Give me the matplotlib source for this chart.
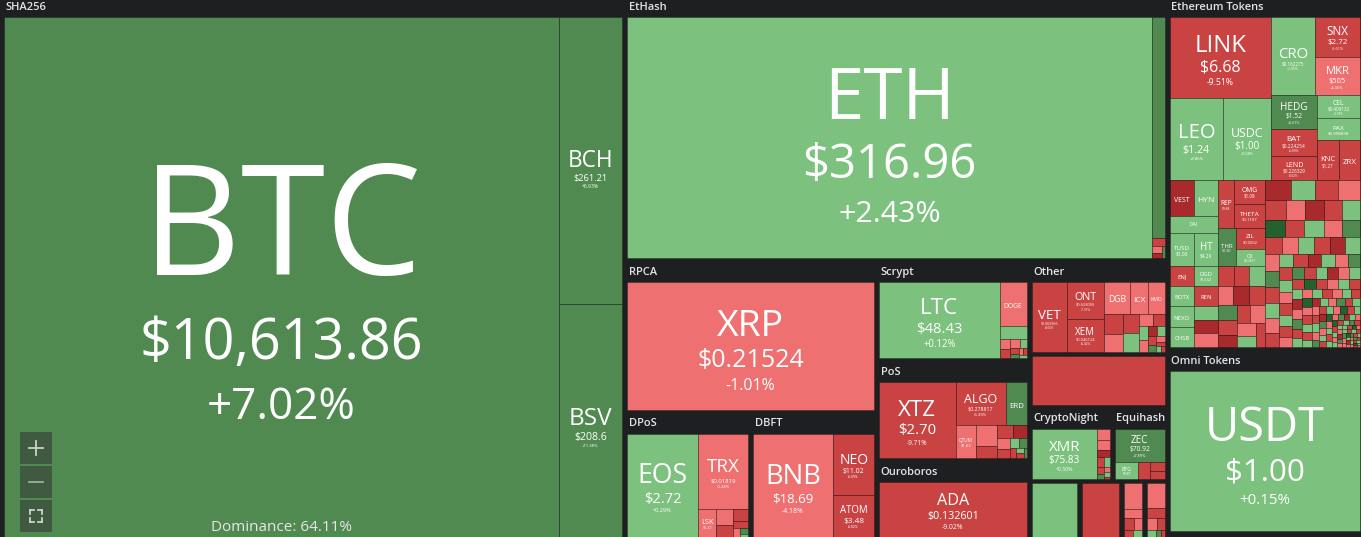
import matplotlib
matplotlib.use('Agg')
import matplotlib.pyplot as plt
from matplotlib.patches import Rectangle
from matplotlib.textpath import TextPath
from matplotlib.font_manager import FontProperties

plt.rcParams['font.family'] = ['Open Sans', 'DejaVu Sans']

# ---------------- data (size = tile weight) ----------------
dominance = 64.11

# SHA256
sha_names = ['BTC', 'BCH', 'BSV']
sha_prices = ['$10,613.86', '$261.21', '$208.6']
sha_changes = [7.02, 6.93, 11.38]
sha_sizes = [287560, 18081, 14679]

# EtHash
ethash_names = ['ETH', 'ETC']
ethash_prices = ['$316.96', '$6.51']
ethash_changes = [2.43, 8.20, -7.1, -3.0, -12.4, 6.2]
ethash_sizes = [126284, 2873, 104, 70, 50, 36]

# RPCA
rpca_names = ['XRP']
rpca_prices = ['$0.21524']
rpca_changes = [-1.01]
rpca_sizes = [31369]

# DPoS
dpos_names = ['EOS', 'TRX', 'LSK']
dpos_prices = ['$2.72', '$0.01819', '$1.27']
dpos_changes = [0.29, -0.28, -2.2, -4.1, -6.5, -7.3, -5.9, -1.2, 8.4, 1.1]
dpos_sizes = [7313, 3750, 506, 280, 204, 170, 110, 54, 48, 28]

# DBFT
dbft_names = ['BNB', 'NEO', 'ATOM']
dbft_prices = ['$18.69', '$11.02', '$3.48']
dbft_changes = [-4.18, -6.09, -6.82]
dbft_sizes = [8240, 2501, 1722]

# Scrypt
scrypt_names = ['LTC', 'DOGE', 'MONA']
scrypt_prices = ['$48.43', '$0.002557', '$1.17']
scrypt_changes = [0.12, -3.05, 1.76, -2.6, -6.9, -3.1, 1.2, -7.4, 9.1, -1.8, -5.5, 2.2]
scrypt_sizes = [9120, 1188, 357, 102, 95, 80, 60, 50, 40, 30, 25, 25]

# PoS
pos_names = ['XTZ', 'ALGO', 'ERD', 'QTUM']
pos_prices = ['$2.70', '$0.278817', '$0.0301', '$1.63']
pos_changes = [-9.71, -6.39, 7.35, -2.6, -3.4, -6.2, -7.5, -11.0, -1.5, -8.0, 2.1, 9.0, -6.3, 1.4, -5.7, 8.8]
pos_sizes = [5776, 2150, 903, 660, 429, 250, 200, 180, 150, 120, 90, 70, 60, 50, 40, 24]

# Ouroboros
ouro_names = ['ADA']
ouro_prices = ['$0.132601']
ouro_changes = [-9.02]
ouro_sizes = [8085]

# Other
other_names = ['VET', 'ONT', 'XEM', 'DGB', 'ICX', 'KMD']
other_prices = ['$0.003966', '$0.633055', '$0.046124', '$0.006823', '$0.151225', '$0.6172']
other_changes = [-8.05, -7.31, -6.42, -4.48, -3.96, -2.71,
                 -7.4, -3.8, -6.1, 1.9, -2.7, -8.3, 3.1, -1.4, -12.2, 0.8, -5.5, 7.7, -2.0, -6.6, 2.4, -5.1]
other_sizes = [2415, 1368, 1254, 806, 558, 527,
               364, 340, 312, 312, 180, 150, 120, 100, 90, 80, 70, 60, 50, 40, 30, 20]

# unlabeled blocks
misc_changes = [-7.9]
misc_sizes = [6432]
blk_changes = [1.6, -7.2, -2.5, -3.9, -6.2, -1.7, -5.6, 2.2, -3.1, -7.0, -2.2, -6.4, 1.4, 6.3, -5.8]
blk_sizes = [2438, 1961, 450, 160, 120, 100, 64, 60, 430, 180, 120, 100, 60, 40, 24]

# CryptoNight
cn_names = ['XMR']
cn_prices = ['$75.83']
cn_changes = [0.50, -3.3, -2.1, -14.0, -6.0, 1.5, -7.0, 6.5, -1.0, 0.7, -5.4]
cn_sizes = [3300, 143, 130, 91, 65, 60, 50, 40, 30, 25, 16]

# Equihash
eq_names = ['ZEC', 'BTG']
eq_prices = ['$70.92', '$9.87']
eq_changes = [7.89, 1.31, -6.8, -7.9, -8.8]
eq_sizes = [1683, 408, 204, 135, 120]

# Ethereum Tokens
tok_names = ['LINK', 'LEO', 'USDC', 'CRO', 'SNX', 'MKR', 'HEDG', 'BAT', 'LEND', 'CEL', 'PAX', 'KNC', 'ZRX',
             'VEST', 'HYN', 'DAI', 'TUSD', 'HT', 'REP', 'OMG', 'THETA', 'THR', 'ZIL', 'OX',
             'ENJ', 'BOTX', 'NEXO', 'CHSB', 'DGD', 'REN', '', '', '']
tok_prices = ['$6.68', '$1.24', '$1.00', '$0.162275', '$2.72', '$505', '$1.52', '$0.224254', '$0.226329',
              '$0.409132', '$0.998838', '$1.27', '$0.2956',
              '$0.9447', '$0.7308', '$1.01', '$1.00', '$4.29', '$9.88', '$1.08', '$0.1107', '$1.30',
              '$0.0062', '$0.0457', '$0.0867', '$0.0316', '$0.1125', '$0.0988', '$13.62', '$0.0538']
tok_changes = [-9.51, 3.86, 0.08, 1.95, -6.61, -4.36, 5.61, -6.09, -8.62, 1.93, 0.31, -6.48, -8.91,
               -13.2, 2.37, 0.41, 0.12, 0.93, -7.12, -7.84, -8.21, 6.05, -6.22, 1.58,
               -6.71, 1.22, 2.05, 0.64, 1.47, -7.36, 2.8, -12.1, -3.3]
tok_sizes = [8181, 4346, 3936, 3432, 1800, 1710, 1564, 1242, 1104, 989, 946, 880, 840,
             840, 840, 816, 792, 792, 782, 690, 720, 684, 609, 493,
             480, 480, 504, 480, 480, 480, 336, 312, 336]
tok_grid_changes = [-6.3, -7.1, 1.8, -3.2, -11.5, -6.9, 7.2, -8.4, -12.6, -5.7, -2.4, -3.6, 2.9, -7.7]
tok_grid_sizes = [312, 299, 312, 299, 312, 299, 286, 286, 242, 220, 260, 260, 220, 200]
tok_tail_sizes = [
    508, 469, 453, 422, 417, 389, 376, 362, 352, 343, 329, 326,
    308, 306, 289, 285, 273, 264, 261, 247, 242, 233, 229, 217,
    212, 208, 196, 194, 182, 180, 172, 168, 161, 159, 152, 147,
    145, 142, 142, 137, 133, 133, 128, 124, 123, 121, 117, 116,
    112, 110, 109, 105, 103, 102, 98, 98, 95, 91, 91, 88,
    86, 84, 82, 81, 81, 77, 75, 74, 72, 70, 68, 67,
    67, 65, 63, 61, 60, 60, 58, 56, 54, 54, 53, 51,
    51, 49, 47, 47, 46, 44, 44, 42, 40, 40, 39, 39,
    37, 37, 35, 33, 33, 32, 32, 30, 30, 28, 28, 26,
    26, 26, 25, 25, 23, 23, 23, 21, 21, 19, 19, 19,
    18, 18, 18, 16, 16, 16, 14, 14, 14, 14, 12, 12,
    12, 12, 11, 11, 11, 11, 9, 9, 9, 9, 9, 7]
tok_tail_changes = [
    -12.3, 2.1, -7.4, -2.8, -6.9, -3.5, -11.8, -8.1, 1.4, 16.2, -6.3, 0.9,
    -2.2, 7.3, -9.1, -1.6, 3.2, -7.7, -10.9, 1.1, -4.4, 6.6, -5.8, 2.6,
    -3.9, -8.8, 0.5, -6.1, -12.6, 2.9, -2.5, 5.9, -7.2, 1.7, -3.1, -9.6,
    1.2, -6.4, -2.9, 8.1, -7.9, 0.7, -11.4, -3.6, 2.3, -5.2, 19.5, -8.4,
    -1.9, 3.8, -6.8, 1.5, -10.6, -2.4, 6.9, -7.5, 0.3, -4.7, 2.7, -9.3,
    -3.2, 1.9, -6.2, 21.3, -2.1, -8.6, 4.1, -5.6, 0.8, -12.9, 2.2, -3.7,
    7.4, -6.7, 1.3, -4.2, -9.8, 3.3, -1.4, 5.2, -7.1, 0.6, -2.6, 24.8,
    -5.3, 1.8, -10.2, 6.2, -2.7, 3.6, -8.2, 17.4, -1.1, 0.4, -6.6, 2.5,
    -4.1, 8.8, -12.2, 1.6, -3.4, 22.5, -7.3, 0.2, -2.0, 4.6, -9.4, 1.0,
    13.9, -5.9, 2.8, -1.7, -11.1, 6.1, -3.8, 0.9, -7.8, 26.3, -2.3, 3.9,
    -6.0, 1.4, -8.9, 5.4, -1.3, -4.9, 18.6, 2.0, -10.4, -2.9, 7.9, -6.5,
    0.5, -3.3, 11.7, -7.6, 2.4, -1.8, -9.9, 4.4, 28.1, -5.1, 1.1, -3.0]

# Omni Tokens
omni_names = ['USDT']
omni_prices = ['$1.00']
omni_changes = [0.15]
omni_sizes = [30210]

# ---------------- style ----------------
BG = '#1e1f21'
EDGE = (0, 0, 0, 0.3)
PADL, PADR, HEAD, PADT = 4, 1, 24, 4
FP = FontProperties(family='Open Sans')
CAP = TextPath((0, 0), 'H', size=1, prop=FP).get_extents().height


def tw(s):
    return TextPath((0, 0), s, size=1, prop=FP).get_extents().width


def colour(c):
    if c >= 15:
        return '#23612f'
    if c >= 5:
        return '#518a51'
    if c >= 0:
        return '#7cc27e'
    if c > -5:
        return '#ee7070'
    if c > -10:
        return '#c94343'
    return '#a82a2c'


# ---------------- tree building ----------------
def cells(names, prices, changes, sizes):
    n = len(sizes)
    names = names + [''] * (n - len(names))
    prices = prices + [''] * (n - len(prices))
    return [{'kind': 'leaf', 'name': names[i], 'price': prices[i], 'change': changes[i],
             'size': sizes[i], 'grp': False} for i in range(n)]


def build(spec, cl):
    if isinstance(spec, int):
        return cl[spec]
    if spec[0] == 'sq':
        kids = [cl[i] for i in spec[1]]
    else:
        kids = [build(s, cl) for s in spec[1:]]
    return {'kind': spec[0], 'kids': kids, 'size': sum(k['size'] for k in kids),
            'grp': any(k['grp'] for k in kids)}


def box(kind, *kids):
    return {'kind': kind, 'kids': list(kids), 'size': sum(k['size'] for k in kids),
            'grp': any(k['grp'] for k in kids)}


def group(label, body, head=True, padb=0):
    return {'kind': 'group', 'label': label, 'body': body, 'head': head, 'padb': padb,
            'size': body['size'], 'grp': True}


sha = group('SHA256', build(('h', 0, ('v', 1, 2)), cells(sha_names, sha_prices, sha_changes, sha_sizes)))
ethash = group('EtHash', build(('h', 0, ('v', 1, ('sq', range(2, 6)))),
                               cells(ethash_names, ethash_prices, ethash_changes, ethash_sizes)))
rpca = group('RPCA', cells(rpca_names, rpca_prices, rpca_changes, rpca_sizes)[0])
dpos = group('DPoS', build(('h', 0, ('v', 1, ('sq', range(2, 10)))),
                           cells(dpos_names, dpos_prices, dpos_changes, dpos_sizes)))
dbft = group('DBFT', build(('h', 0, ('v', 1, 2)), cells(dbft_names, dbft_prices, dbft_changes, dbft_sizes)))
scrypt = group('Scrypt', build(('h', 0, ('v', 1, ('sq', range(2, 12)))),
                               cells(scrypt_names, scrypt_prices, scrypt_changes, scrypt_sizes)))
pos = group('PoS', build(('h', 0, ('v', ('h', 1, 2), ('sq', range(3, 16)))),
                         cells(pos_names, pos_prices, pos_changes, pos_sizes)))
ouro = group('Ouroboros', cells(ouro_names, ouro_prices, ouro_changes, ouro_sizes)[0])
other = group('Other', build(('h', 0, ('v', 1, 2), ('v', ('h', 3, 4, 5), ('sq', range(6, 22)))),
                             cells(other_names, other_prices, other_changes, other_sizes)))
misc = group('', cells([], [], misc_changes, misc_sizes)[0], head=False)
cn = group('CryptoNight', build(('h', 0, ('sq', range(1, 11))), cells(cn_names, cn_prices, cn_changes, cn_sizes)))
eq = group('Equihash', build(('v', 0, ('sq', range(1, 5))), cells(eq_names, eq_prices, eq_changes, eq_sizes)))
bl = cells([], [], blk_changes, blk_sizes)
blocks = [group('', bl[0], head=False), group('', bl[1], head=False),
          group('', build(('sq', range(2, 8)), bl), head=False),
          group('', build(('sq', range(8, 15)), bl), head=False)]

tok_cells = (cells(tok_names, tok_prices, tok_changes, tok_sizes)
             + cells([], [], tok_grid_changes, tok_grid_sizes)
             + cells([], [], tok_tail_changes, tok_tail_sizes))
n0 = len(tok_sizes)
n1 = n0 + len(tok_grid_sizes)
tok_spec = ('v',
            ('h', ('v', 0, ('h', 1, 2)),
                  ('v', ('h', 3, ('v', 4, 5)), ('h', ('v', 6, 7, 8), ('v', 9, 10, ('h', 11, 12))))),
            ('h', ('v', ('h', ('v', ('h', 13, 14), 15, ('h', 16, 17)),
                              ('v', ('h', 18, ('v', 19, 20)), ('h', 21, ('v', 22, 23)))),
                        ('h', ('v', 24, 25, 26, 27), ('v', 28, 29, 30, 31, 32), ('sq', range(n0, n1)))),
                  ('sq', range(n1, len(tok_cells)))))
tokens = group('Ethereum Tokens', build(tok_spec, tok_cells))
omni = group('Omni Tokens', cells(omni_names, omni_prices, omni_changes, omni_sizes)[0], padb=6)

root = box('h', sha,
           box('v', ethash,
               box('h', box('v', rpca, box('h', dpos, dbft)),
                   box('v', scrypt, pos, ouro),
                   box('v', other, misc, box('h', cn, eq), box('h', *blocks)))),
           box('v', tokens, omni))


# ---------------- layout ----------------
def need(n, known, along_w):
    """extent along the free side when the other side is fixed"""
    if not n['grp']:
        return n['size'] / known
    k = n['kind']
    if k == 'group':
        top = HEAD if n['head'] else PADT
        if along_w:
            inner = known - PADL - PADR
            if inner <= 0.5:
                return 1e9
            return need(n['body'], inner, True) + top + n['padb']
        inner = known - top - n['padb']
        if inner <= 0.5:
            return 1e9
        return need(n['body'], inner, False) + PADL + PADR
    if (k == 'v') == along_w:
        return sum(need(c, known, along_w) for c in n['kids'])
    lo, hi = 1.0, 3000.0
    for _ in range(26):
        mid = 0.5 * (lo + hi)
        tot = sum(need(c, mid, not along_w) for c in n['kids'])
        if tot > known:
            lo = mid
        else:
            hi = mid
    return 0.5 * (lo + hi)


def squarify(sizes, x, y, w, h):
    sc = w * h / sum(sizes)
    vals = [s * sc for s in sizes]
    out = []
    i = 0
    while i < len(vals):
        short = max(min(w, h), 1e-6)

        def worst(r):
            s = sum(r)
            return max(max(short * short * v / (s * s), s * s / (short * short * v)) for v in r)
        row = [vals[i]]
        j = i + 1
        while j < len(vals) and worst(row + [vals[j]]) <= worst(row):
            row.append(vals[j])
            j += 1
        s = sum(row)
        if w >= h:
            cw = s / max(h, 1e-6)
            yy = y
            for v in row:
                out.append((x, yy, cw, v / cw))
                yy += v / cw
            x += cw
            w -= cw
        else:
            rh = s / max(w, 1e-6)
            xx = x
            for v in row:
                out.append((xx, y, v / rh, rh))
                xx += v / rh
            y += rh
            h -= rh
        i = j
    return out


fig = plt.figure(figsize=(13.61, 5.37), dpi=100)
fig.patch.set_facecolor(BG)
ax = fig.add_axes([0, 0, 1, 1])
ax.set_facecolor(BG)
ax.set_xlim(0, 1361)
ax.set_ylim(537, 0)
ax.axis('off')
rects = {}


def draw_leaf(n, x, y, w, h):
    ax.add_patch(Rectangle((x, y), w, h, facecolor=colour(n['change']), edgecolor=EDGE, linewidth=0.6))
    if not n['name']:
        return
    rects[n['name']] = (x, y, w, h)
    if w < 16 or h < 14:
        return
    lines = []
    c1 = min(0.21 * h, 0.65 * w * CAP / tw(n['name']))
    if c1 < 3.2:
        return
    lines.append((n['name'], c1))
    c2 = min(0.14 * h, 0.5 * w * CAP / tw(n['price'])) if n['price'] else 0
    if c2 >= 2.4:
        lines.append((n['price'], c2))
        chg = f"{n['change']:+.2f}%"
        c3 = min(0.09 * h, 0.26 * w * CAP / tw(chg))
        if c3 >= 2.0:
            lines.append((chg, c3))
    gapf = [0.3, 0.4]
    gaps = [gapf[i] * (lines[i][1] + lines[i + 1][1]) for i in range(len(lines) - 1)]
    total = sum(c for _, c in lines) + sum(gaps)
    top = y + h / 2 - total / 2 + 0.03 * h
    for i, (s, c) in enumerate(lines):
        base = top + c
        ax.text(x + w / 2, base, s, ha='center', va='baseline', color='white',
                fontsize=c / CAP * 0.72)
        top = base + (gaps[i] if i < len(gaps) else 0)


def layout(n, x, y, w, h):
    k = n['kind']
    if k == 'leaf':
        draw_leaf(n, x, y, w, h)
    elif k == 'group':
        top = HEAD if n['head'] else PADT
        if n['label']:
            ax.text(x + 5.5, y + 14, n['label'], color='#e4e4e4', fontsize=8,
                    fontweight='semibold', va='center', ha='left')
        layout(n['body'], x + PADL, y + top, w - PADL - PADR, h - top - n['padb'])
    elif k == 'h':
        ws = [need(c, h, False) for c in n['kids']]
        s = sum(ws)
        for c, cw in zip(n['kids'], ws):
            layout(c, x, y, cw * w / s, h)
            x += cw * w / s
    elif k == 'v':
        hs = [need(c, w, True) for c in n['kids']]
        s = sum(hs)
        for c, ch in zip(n['kids'], hs):
            layout(c, x, y, w, ch * h / s)
            y += ch * h / s
    else:
        for c, r in zip(n['kids'], squarify([c['size'] for c in n['kids']], x, y, w, h)):
            draw_leaf(c, *r)


layout(root, 0, -7, 1361, 544)

# dominance label
bx, by, bw, bh = rects['BTC']
ax.text(bx + bw / 2, by + bh - 6, f'Dominance: {dominance:.2f}%', ha='center', va='baseline',
        color='#e6e6e6', fontsize=11)

# map controls
for top in (432, 466, 500):
    ax.add_patch(Rectangle((20, top), 32, 32, facecolor='#3f5a40', edgecolor='none'))
ax.plot([29, 43], [448, 448], color='#c9d3c9', lw=1.3)
ax.plot([36, 36], [441, 455], color='#c9d3c9', lw=1.3)
ax.plot([29, 43], [482, 482], color='#9fb09f', lw=1.3)
for cx, cy, dx, dy in [(30, 510, 1, 1), (42, 510, -1, 1), (30, 522, 1, -1), (42, 522, -1, -1)]:
    ax.plot([cx, cx + 4 * dx], [cy, cy], color='#c9d3c9', lw=1.3)
    ax.plot([cx, cx], [cy, cy + 4 * dy], color='#c9d3c9', lw=1.3)

fig.savefig('out.png', dpi=100, facecolor=BG)
